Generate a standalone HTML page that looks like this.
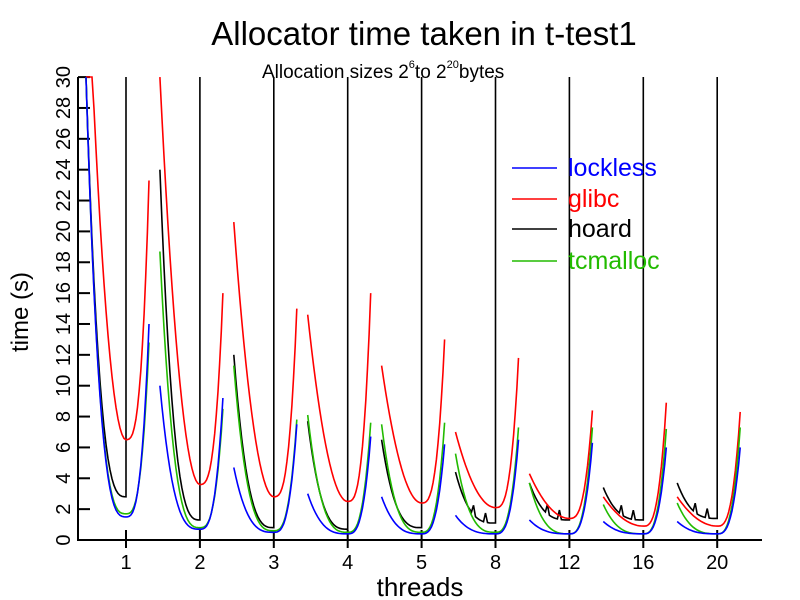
<!DOCTYPE html>
<html><head><meta charset="utf-8"><style>
body{margin:0;background:#fff;}
svg{display:block;font-family:"Liberation Sans",sans-serif;}
</style></head><body>
<svg id="s" width="800" height="600" xmlns="http://www.w3.org/2000/svg">
<rect width="800" height="600" fill="#fff"/>
<text x="424" y="45" font-size="33" text-anchor="middle">Allocator time taken in t-test1</text>
<text x="262" y="78" font-size="19">Allocation sizes 2<tspan dy="-10" font-size="11">6</tspan><tspan dy="10">to 2</tspan><tspan dy="-10" font-size="11">20</tspan><tspan dy="10">bytes</tspan></text>
<text x="420" y="596" font-size="26" text-anchor="middle">threads</text>
<text transform="translate(28,312) rotate(-90)" font-size="24" text-anchor="middle">time (s)</text>
<g id="yt" font-size="20"></g>
<g id="xt" font-size="20"></g>
<g id="series" fill="none" stroke-width="1.6"></g>
<line x1="78" y1="77" x2="78" y2="541" stroke="#000" stroke-width="2"/>
<line x1="77" y1="540" x2="762" y2="540" stroke="#000" stroke-width="2"/>
<g font-size="25">
<line x1="512" y1="168" x2="557" y2="168" stroke="#0000ff" stroke-width="1.6"/><text x="568" y="176" fill="#0000ff">lockless</text>
<line x1="512" y1="199" x2="557" y2="199" stroke="#ff0000" stroke-width="1.6"/><text x="568" y="207" fill="#ff0000">glibc</text>
<line x1="512" y1="229" x2="557" y2="229" stroke="#000" stroke-width="1.6"/><text x="568" y="237" fill="#000">hoard</text>
<line x1="512" y1="261" x2="557" y2="261" stroke="#22bb00" stroke-width="1.6"/><text x="568" y="269" fill="#22bb00">tcmalloc</text>
</g>
</svg>
<script>
var NS="http://www.w3.org/2000/svg";
function el(t,a,p,txt){var e=document.createElementNS(NS,t);for(var k in a)e.setAttribute(k,a[k]);if(txt!=null)e.textContent=txt;p.appendChild(e);return e;}
function Y(v){return 540-v*15.43;}
var yt=document.getElementById('yt');
for(var v=0;v<=30;v+=2){var y=Y(v);el('line',{x1:78,y1:y,x2:90,y2:y,stroke:'#000','stroke-width':2},yt);
el('text',{transform:'translate(70,'+y+') rotate(-90)','text-anchor':'middle'},yt,String(v));}
var xt=document.getElementById('xt');var labs=['1','2','3','4','5','8','12','16','20'];
var cs=[];for(var g=0;g<9;g++){var c=126+73.9*g;cs.push(c);
el('line',{x1:c,y1:530,x2:c,y2:548,stroke:'#000','stroke-width':2},xt);
el('text',{x:c,y:569,'text-anchor':'middle'},xt,labs[g]);}
var S={
b:{col:'#0000ff',d:[[30,1.5,14],[10,0.7,9.2],[4.7,0.5,7.5],[3,0.4,6.7],[2.8,0.4,6.2],[1.6,0.4,6.5],[1.3,0.4,6.3],[1.2,0.4,6],[1.2,0.4,6]]},
r:{col:'#ff0000',d:[[40,6.5,23.3],[30,3.6,16],[20.6,2.8,15],[14.6,2.5,16],[11.3,2.4,13],[7,2.1,11.8],[4.3,1.4,8.4],[2.8,0.9,8.9],[2.8,0.9,8.3]]},
g:{col:'#22bb00',d:[[30,1.7,12.8],[18.7,0.8,8.5],[11.3,0.6,7.8],[8.1,0.5,7.6],[7.5,0.5,7.6],[5.6,0.5,7.3],[3.7,0.4,7.3],[2.3,0.4,7.2],[2.4,0.4,7.3]]},
k:{col:'#000',d:[[30,2.8],[24,1.3],[12,0.8],[7.7,0.7],[6.5,0.8],[4.4,1.1],[3.7,1.3],[3.4,1.3],[3.7,1.4]]}
};
var sg=document.getElementById('series');
var order=['k','r','g','b'];
order.forEach(function(key){var s=S[key];
s.d.forEach(function(d,g){var c=cs[g];var pts=[];var L=d[0],m=d[1];var pl=key=='r'?2:3;
for(var i=0;i<=20;i++){var t=1-i/20;var x=c-40*t;var v=m+(L-m)*Math.pow(t,pl);
if(key=='k'&&g>=5&&(i==9||i==15))v+=0.6;pts.push([x,v]);}
if(key=='k'){pts.push([c,m+1.2]);pts.push([c,31]);}
else{var R=d[2];for(var i=1;i<=14;i++){var t=i/14;pts.push([c+23*t,m+(R-m)*Math.pow(t,3)]);}}
var p='';pts.forEach(function(q,i){var yy=Math.max(Y(q[1]),77);p+=(i?'L':'M')+q[0].toFixed(1)+' '+yy.toFixed(1);});
el('path',{d:p,stroke:s.col},sg);});});
</script>
</body></html>
